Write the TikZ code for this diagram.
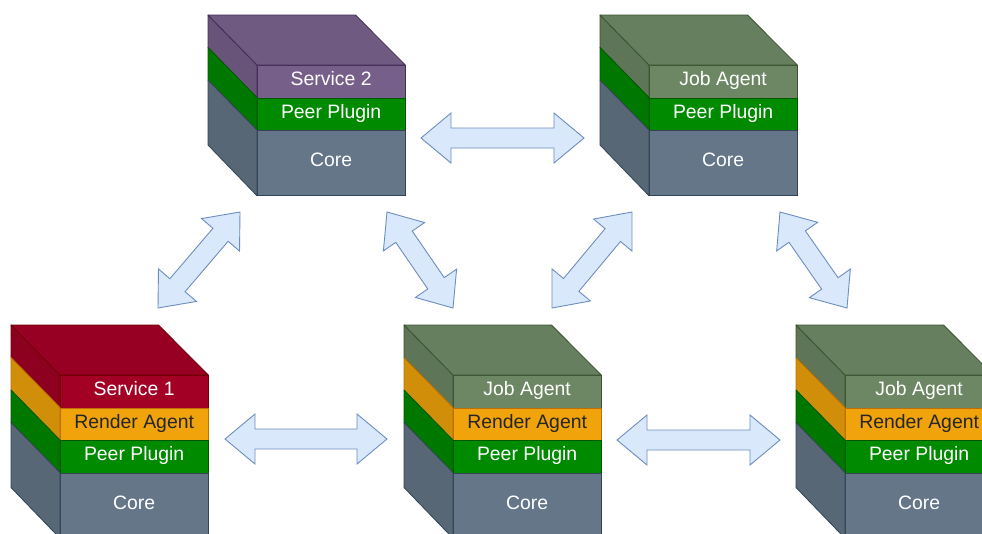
\documentclass[tikz,border=0pt]{standalone}
\usepackage{fontspec}
\setmainfont{Liberation Sans}
\usetikzlibrary{calc}

% fill / stroke pairs of the layer colours
\definecolor{svcpurple}{HTML}{76608A}\definecolor{svcpurpleline}{HTML}{432D57}
\definecolor{svcred}{HTML}{A20025}\definecolor{svcredline}{HTML}{6F0000}
\definecolor{peergreen}{HTML}{008A00}\definecolor{peergreenline}{HTML}{005700}
\definecolor{coregrey}{HTML}{647687}\definecolor{coregreyline}{HTML}{314354}
\definecolor{renderorange}{HTML}{F0A30A}\definecolor{renderorangeline}{HTML}{BD7000}
\definecolor{jobolive}{HTML}{6D8764}\definecolor{joboliveline}{HTML}{3A5431}
\definecolor{arrowblue}{HTML}{DAE8FC}\definecolor{arrowblueline}{HTML}{6C8EBF}

\tikzset{
  layerbox/.style={draw, line width=0.8pt, minimum width=147.5pt, inner sep=0pt,
    anchor=north west, font=\fontsize{19.4}{23}\selectfont,
    text height=14pt, text depth=6pt},
  barrow/.style={fill=arrowblue, draw=arrowblueline, line width=0.9pt, line join=miter},
}

% one layer of a stack: front face (named node) plus its slanted side face
% #1 name, #2 x, #3 y (top), #4 height, #5 fill, #6 stroke, #7 text colour, #8 label
\newcommand\stacklayer[8]{%
  \node[layerbox, fill=#5, draw=#6, text=#7, minimum height=#4pt] (#1) at (#2,#3) {#8};
  \filldraw[fill=#5!87!black, draw=#6, line width=0.8pt, line join=round]
    (#1.north west) -- ++(-49,-50) -- ++(0,#4) -- (#1.south west) -- cycle;}

% top face of a stack, above its first layer
\newcommand\stacktop[3]{%
  \filldraw[fill=#2!94!black, draw=#3, line width=0.8pt, line join=round]
    (#1.north west) -- ++(-49,-50) -- ++(147.5,0) -- (#1.north east) -- cycle;}

% double-headed block arrow between two named tips
\newcommand\blockarrow[2]{%
  \draw[barrow] (#1)
    -- ($(#1)!30pt!(#2)!25pt!90:(#2)$)
    -- ($(#1)!30pt!(#2)!10pt!90:(#2)$)
    -- ($(#2)!30pt!(#1)!10pt!-90:(#1)$)
    -- ($(#2)!30pt!(#1)!25pt!-90:(#1)$)
    -- (#2)
    -- ($(#2)!30pt!(#1)!25pt!90:(#1)$)
    -- ($(#2)!30pt!(#1)!10pt!90:(#1)$)
    -- ($(#1)!30pt!(#2)!10pt!-90:(#2)$)
    -- ($(#1)!30pt!(#2)!25pt!-90:(#2)$)
    -- cycle;}

\begin{document}
\begin{tikzpicture}[x=1pt, y=-1pt]
\useasboundingbox (0,0) rectangle (982,533);
\clip (0,0) rectangle (982,533);

% ---- Service 2 stack
\stacklayer{sAsvc}{257}{65}{32.5}{svcpurple}{svcpurpleline}{white}{Service 2}
\stacklayer{sApeer}{257}{97.5}{32.5}{peergreen}{peergreenline}{white}{Peer Plugin}
\stacklayer{sAcore}{257}{130}{65}{coregrey}{coregreyline}{white}{Core}
\stacktop{sAsvc}{svcpurple}{svcpurpleline}

% ---- Job Agent stack (top right)
\stacklayer{sBjob}{649}{65}{32.5}{jobolive}{joboliveline}{white}{Job Agent}
\stacklayer{sBpeer}{649}{97.5}{32.5}{peergreen}{peergreenline}{white}{Peer Plugin}
\stacklayer{sBcore}{649}{130}{65}{coregrey}{coregreyline}{white}{Core}
\stacktop{sBjob}{jobolive}{joboliveline}

% ---- Service 1 stack (bottom left)
\stacklayer{sCsvc}{60}{375}{32.5}{svcred}{svcredline}{white}{Service 1}
\stacklayer{sCrender}{60}{407.5}{32.5}{renderorange}{renderorangeline}{black!85}{Render Agent}
\stacklayer{sCpeer}{60}{440}{32.5}{peergreen}{peergreenline}{white}{Peer Plugin}
\stacklayer{sCcore}{60}{472.5}{65}{coregrey}{coregreyline}{white}{Core}
\stacktop{sCsvc}{svcred}{svcredline}

% ---- Job Agent + Render Agent stack (bottom middle)
\stacklayer{sDjob}{453}{375}{32.5}{jobolive}{joboliveline}{white}{Job Agent}
\stacklayer{sDrender}{453}{407.5}{32.5}{renderorange}{renderorangeline}{black!85}{Render Agent}
\stacklayer{sDpeer}{453}{440}{32.5}{peergreen}{peergreenline}{white}{Peer Plugin}
\stacklayer{sDcore}{453}{472.5}{65}{coregrey}{coregreyline}{white}{Core}
\stacktop{sDjob}{jobolive}{joboliveline}

% ---- Job Agent + Render Agent stack (bottom right)
\stacklayer{sEjob}{845}{375}{32.5}{jobolive}{joboliveline}{white}{Job Agent}
\stacklayer{sErender}{845}{407.5}{32.5}{renderorange}{renderorangeline}{black!85}{Render Agent}
\stacklayer{sEpeer}{845}{440}{32.5}{peergreen}{peergreenline}{white}{Peer Plugin}
\stacklayer{sEcore}{845}{472.5}{65}{coregrey}{coregreyline}{white}{Core}
\stacktop{sEjob}{jobolive}{joboliveline}

% ---- arrow tips
\coordinate (tAB1) at (421,138);  \coordinate (tAB2) at (584,138);
\coordinate (tCD1) at (225,439);  \coordinate (tCD2) at (387,439);
\coordinate (tDE1) at (617,440);  \coordinate (tDE2) at (780,440);
\coordinate (tAC1) at (158,308);  \coordinate (tAC2) at (240,212);
\coordinate (tAD1) at (387,212);  \coordinate (tAD2) at (453,308);
\coordinate (tBD1) at (552,308);  \coordinate (tBD2) at (632,212);
\coordinate (tBE1) at (780,212);  \coordinate (tBE2) at (847,308);

\blockarrow{tAB1}{tAB2}
\blockarrow{tCD1}{tCD2}
\blockarrow{tDE1}{tDE2}
\blockarrow{tAC1}{tAC2}
\blockarrow{tAD1}{tAD2}
\blockarrow{tBD1}{tBD2}
\blockarrow{tBE1}{tBE2}
\end{tikzpicture}
\end{document}
